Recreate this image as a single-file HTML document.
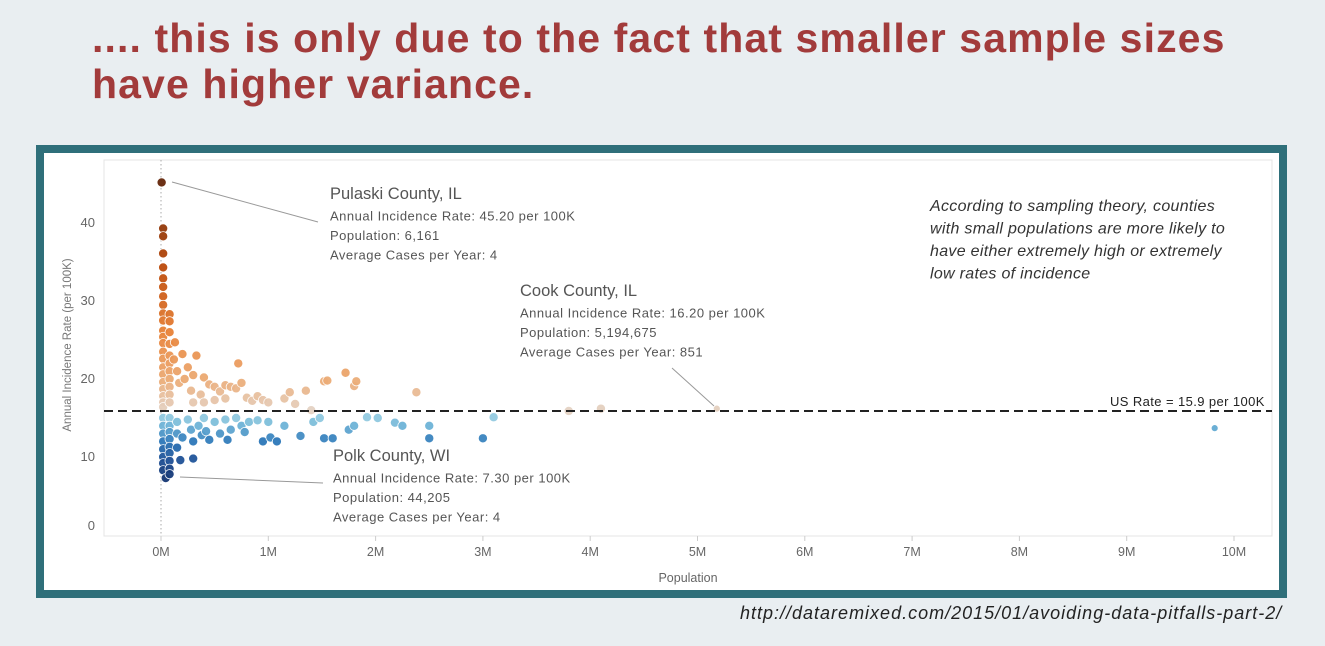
<!DOCTYPE html>
<html><head><meta charset="utf-8"><style>
body{margin:0;width:1325px;height:646px;overflow:hidden;background:#e9eef1;font-family:"Liberation Sans",sans-serif;position:relative}
.title{position:absolute;left:92px;top:15px;color:#a23b3b;font-weight:bold;font-size:41px;line-height:46px;letter-spacing:1.1px}
.frame{position:absolute;left:36px;top:145px;width:1235px;height:437px;border:8px solid #2f6f7a;background:#fff}
.url{position:absolute;left:740px;top:603px;font-style:italic;font-size:18px;letter-spacing:1px;color:#222}
</style></head><body>
<div class="title">.... this is only due to the fact that smaller sample sizes<br>have higher variance.</div>
<div class="frame"></div>
<svg width="1325" height="646" style="position:absolute;left:0;top:0" id="chart"></svg>
<div class="url">http://dataremixed.com/2015/01/avoiding-data-pitfalls-part-2/</div>
<script>
const pops=[0.006,0.02,0.02,0.02,0.02,0.02,0.02,0.02,0.02,0.02,0.02,0.02,0.02,0.02,0.02,0.02,0.02,0.02,0.02,0.02,0.02,0.02,0.02,
0.08,0.08,0.08,0.08,0.08,0.08,0.08,0.08,0.08,0.08,0.08,
0.13,0.12,0.15,0.2,0.17,0.25,0.22,0.33,0.3,0.28,0.4,0.45,0.37,0.5,0.55,0.6,0.65,0.72,0.7,0.75,0.8,0.85,0.9,0.95,1.0,0.6,0.5,0.4,0.3,1.15,1.2,1.25,1.35,1.52,1.55,1.72,1.8,1.82,2.38,1.4,3.8,4.1,5.18,
0.02,0.02,0.02,0.02,0.02,0.02,0.02,0.02,0.044,
0.08,0.08,0.08,0.08,0.08,0.08,0.08,0.08,0.08,
0.15,0.15,0.15,0.18,0.2,0.25,0.28,0.3,0.3,0.35,0.38,0.4,0.42,0.45,0.5,0.55,0.6,0.62,0.65,0.7,0.75,0.78,0.82,0.9,0.95,1.0,1.02,1.08,1.15,1.3,1.42,1.48,1.52,1.6,1.75,1.8,1.92,2.02,2.18,2.25,2.5,2.5,3.0,3.1,9.82];
const rates=[45.2,39.3,38.3,36.1,34.3,32.9,31.8,30.6,29.5,28.4,27.5,26.2,25.4,24.6,23.5,22.6,21.5,20.6,19.6,18.7,17.8,17.0,16.4,
28.3,27.4,26.0,24.5,23.0,22.0,21.0,20.0,19.0,18.0,17.0,
24.7,22.5,21.0,23.2,19.5,21.5,20.0,23.0,20.5,18.5,20.2,19.3,18.0,19.0,18.4,19.2,19.0,22.0,18.8,19.5,17.6,17.2,17.8,17.3,17.0,17.5,17.3,17.0,17.0,17.5,18.3,16.8,18.5,19.7,19.8,20.8,19.1,19.7,18.3,16.0,15.9,16.2,16.2,
15.0,14.0,13.0,12.0,11.0,10.0,9.2,8.3,7.3,
15.0,14.0,13.2,12.3,11.3,10.5,9.5,8.5,7.8,
14.5,13.0,11.2,9.6,12.5,14.8,13.5,12.0,9.8,14.0,12.8,15.0,13.3,12.2,14.5,13.0,14.8,12.2,13.5,15.0,14.0,13.2,14.5,14.7,12.0,14.5,12.5,12.0,14.0,12.7,14.5,15.0,12.4,12.4,13.5,14.0,15.1,15.0,14.4,14.0,14.0,12.4,12.4,15.1,13.7];
const xTicks=[0,1,2,3,4,5,6,7,8,9,10];
const yTicks=[0,10,20,30,40];
const usRate=15.9;
const NS='http://www.w3.org/2000/svg';
const svg=document.getElementById('chart');
const X=v=>161+v*107.3, Y=v=>535-v*7.8;
function el(t,a,txt){const e=document.createElementNS(NS,t);for(const k in a)e.setAttribute(k,a[k]);if(txt!=null)e.textContent=txt;svg.appendChild(e);return e;}
const pb=el('rect',{x:104,y:160,width:1168,height:376,fill:'none',stroke:'#e4e4e4'});


xTicks.forEach(t=>{const e=el('text',{x:X(t),y:556,'text-anchor':'middle','font-size':12.5,fill:'#666'},t+'M');


el('line',{x1:X(t),x2:X(t),y1:536,y2:541,stroke:'#ccc'});});
yTicks.forEach(t=>{const e=el('text',{x:95,y:Y(t)+4-(t==0?9:0),'text-anchor':'end','font-size':13,fill:'#666'},t);

});
let a=el('text',{x:688,y:582,'text-anchor':'middle','font-size':12.5,fill:'#666'},'Population');


a=el('text',{x:0,y:0,transform:'translate(71,345) rotate(-90)','text-anchor':'middle','font-size':11.5,fill:'#777'},'Annual Incidence Rate (per 100K)');


el('line',{x1:X(0),x2:X(0),y1:160,y2:536,stroke:'#aaa','stroke-dasharray':'1.5,2.5'});
function lerp(c1,c2,t){return 'rgb('+c1.map((v,i)=>Math.round(v+(c2[i]-v)*t)).join(',')+')';}
function color(r){
 if(r>=usRate){const s=[[16,[228,210,195]],[20,[236,170,115]],[26,[232,130,55]],[34,[190,75,10]],[46,[95,35,10]]];
  for(let i=1;i<s.length;i++)if(r<=s[i][0]||i==s.length-1){const t=Math.min(1,Math.max(0,(r-s[i-1][0])/(s[i][0]-s[i-1][0])));return lerp(s[i-1][1],s[i][1],t);}}
 const s=[[15.9,[175,220,232]],[14,[110,180,215]],[12,[45,120,185]],[9.5,[30,80,150]],[7,[20,50,110]]];
 for(let i=1;i<s.length;i++)if(r>=s[i][0]||i==s.length-1){const t=Math.min(1,Math.max(0,(s[i-1][0]-r)/(s[i-1][0]-s[i][0])));return lerp(s[i-1][1],s[i][1],t);}
}
pops.forEach((p,i)=>{const c=el('circle',{cx:X(p),cy:Y(rates[i]),r:p>5?3.5:4.6,fill:color(rates[i]),stroke:'#fff','stroke-width':0.8,opacity:0.95});

});
a=el('line',{x1:104,x2:1272,y1:Y(usRate),y2:Y(usRate),stroke:'#222','stroke-width':2,'stroke-dasharray':'9,5'});


a=el('text',{x:1110,y:Y(usRate)-5,'font-size':13,'letter-spacing':0.4,fill:'#222'},'US Rate = 15.9 per 100K');


el('line',{x1:172,y1:182,x2:318,y2:222,stroke:'#999'});
el('line',{x1:672,y1:368,x2:714,y2:406,stroke:'#999'});
el('line',{x1:180,y1:477,x2:323,y2:483,stroke:'#999'});
function ann(name,x,y,lines){const t=el('text',{x:x,y:y,'font-size':16.5,fill:'#555'},lines[0]);


for(let i=1;i<lines.length;i++)el('text',{x:x,y:y+2+i*19.5,'font-size':13,'letter-spacing':0.5,fill:'#555'},lines[i]);}
ann('pulaski',330,199,['Pulaski County, IL','Annual Incidence Rate: 45.20 per 100K','Population: 6,161','Average Cases per Year: 4']);
ann('cook',520,296,['Cook County, IL','Annual Incidence Rate: 16.20 per 100K','Population: 5,194,675','Average Cases per Year: 851']);
ann('polk',333,461,['Polk County, WI','Annual Incidence Rate: 7.30 per 100K','Population: 44,205','Average Cases per Year: 4']);
['According to sampling theory, counties','with small populations are more likely to','have either extremely high or extremely','low rates of incidence'].forEach((s,i)=>{
const t=el('text',{x:930,y:211+i*22.5,'font-size':16,'letter-spacing':0.3,'font-style':'italic',fill:'#333'},s);

});
</script>
</body></html>
